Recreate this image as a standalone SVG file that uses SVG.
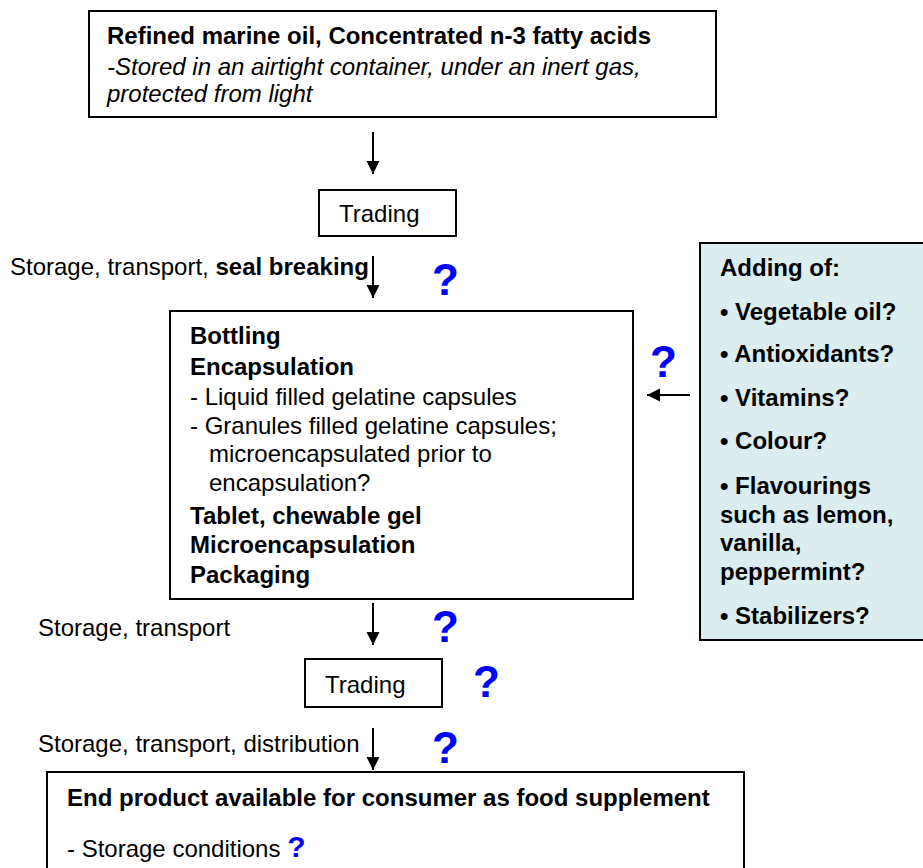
<svg xmlns="http://www.w3.org/2000/svg" width="923" height="868" viewBox="0 0 923 868">
<defs>
<marker id="ah" markerWidth="14" markerHeight="14" refX="13" refY="6.5" orient="auto" markerUnits="userSpaceOnUse">
<path d="M0,0 L13,6.5 L0,13 z" fill="#000"/>
</marker>
</defs>
<style>
text{font-family:"Liberation Sans",Arial,Helvetica,sans-serif;fill:#000;font-size:24px}
.b{font-weight:bold}
.i{font-style:italic}
.q{font-weight:bold;fill:#0000ff;font-size:44px}
.qs{font-weight:bold;fill:#0000ff;font-size:30px}
.box{fill:#fff;stroke:#000;stroke-width:2}
.conn{stroke:#000;stroke-width:2;fill:none;marker-end:url(#ah)}
</style>
<rect width="923" height="868" fill="#fff"/>
<g id="source">
<rect class="box" x="89" y="11" width="627" height="106"/>
<text class="b" x="107" y="44">Refined marine oil, Concentrated n-3 fatty acids</text>
<text class="i" x="107" y="75">-Stored in an airtight container, under an inert gas,</text>
<text class="i" x="107" y="102">protected from light</text>
</g>
<g id="trading1">
<rect class="box" x="319" y="190" width="137" height="46"/>
<text x="339" y="222">Trading</text>
</g>
<g id="processing">
<rect class="box" x="170" y="311" width="463" height="288"/>
<text class="b" x="190" y="344">Bottling</text>
<text class="b" x="190" y="375">Encapsulation</text>
<text x="190" y="405">- Liquid filled gelatine capsules</text>
<text x="190" y="434">- Granules filled gelatine capsules;</text>
<text x="209" y="462">microencapsulated prior to</text>
<text x="209" y="491">encapsulation?</text>
<text class="b" x="190" y="524">Tablet, chewable gel</text>
<text class="b" x="190" y="553">Microencapsulation</text>
<text class="b" x="190" y="583">Packaging</text>
</g>
<g id="additives">
<rect x="700" y="243" width="230" height="397" fill="#dbedef" stroke="#000" stroke-width="2"/>
<text class="b" x="720" y="276">Adding of:</text>
<text class="b" x="720" y="320">• Vegetable oil?</text>
<text class="b" x="720" y="362">• Antioxidants?</text>
<text class="b" x="720" y="406">• Vitamins?</text>
<text class="b" x="720" y="449">• Colour?</text>
<text class="b" x="720" y="494">• Flavourings</text>
<text class="b" x="720" y="523">such as lemon,</text>
<text class="b" x="720" y="551">vanilla,</text>
<text class="b" x="720" y="580">peppermint?</text>
<text class="b" x="720" y="624">• Stabilizers?</text>
</g>
<g id="trading2">
<rect class="box" x="305" y="659" width="137" height="48"/>
<text x="325" y="693">Trading</text>
</g>
<g id="endproduct">
<rect class="box" x="47" y="772" width="697" height="110"/>
<text class="b" x="67" y="806">End product available for consumer as food supplement</text>
<text x="67" y="857">- Storage conditions <tspan class="qs">?</tspan></text>
</g>
<g id="connectors">
<line class="conn" x1="373" y1="132" x2="373" y2="174"/>
<line class="conn" x1="373" y1="256" x2="373" y2="298"/>
<line class="conn" x1="373" y1="603" x2="373" y2="645"/>
<line class="conn" x1="373" y1="728" x2="373" y2="770"/>
<line class="conn" x1="690" y1="395" x2="647" y2="395"/>
</g>
<g id="labels">
<text x="10" y="275">Storage, transport, <tspan class="b">seal breaking</tspan></text>
<text x="38" y="636">Storage, transport</text>
<text x="38" y="752">Storage, transport, distribution</text>
<text class="q" x="432" y="295">?</text>
<text class="q" x="650" y="377">?</text>
<text class="q" x="432" y="642">?</text>
<text class="q" x="473" y="697">?</text>
<text class="q" x="432" y="763">?</text>
</g>
</svg>
